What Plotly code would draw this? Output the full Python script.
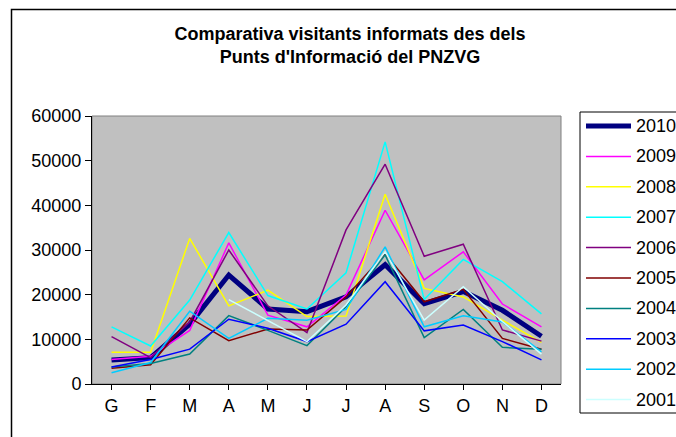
import plotly.graph_objects as go

months = ["G", "F", "M", "A", "M", "J", "J", "A", "S", "O", "N", "D"]
years = ["2010", "2009", "2008", "2007", "2006", "2005", "2004", "2003", "2002", "2001"]

v2010 = [5400, 5900, 13400, 24400, 16800, 16200, 19500, 26700, 18000, 20700, 16500, 10700]
v2009 = [5500, 6200, 12000, 31600, 15400, 12800, 19900, 38900, 23300, 29600, 17900, 12800]
v2008 = [7100, 7100, 32600, 17500, 21000, 15100, 15200, 42500, 21400, 19500, 14300, 9300]
v2007 = [12800, 8500, 18800, 33900, 19800, 16800, 24900, 54200, 18900, 27900, 22900, 15700]
v2006 = [10600, 5900, 13900, 30000, 17500, 11500, 34500, 49200, 28600, 31300, 12100, 9600]
v2005 = [3500, 4300, 14800, 9700, 12300, 12100, 19500, 29200, 18400, 21200, 10200, 7800]
v2004 = [3800, 4600, 6700, 15300, 12000, 8600, 17300, 28900, 10400, 16700, 8200, 7800]
v2003 = [3800, 5500, 7800, 14500, 12500, 9500, 13400, 22900, 11900, 13200, 9500, 5400]
v2002 = [2500, 4800, 16300, 10200, 14700, 14300, 16700, 30700, 12800, 15300, 13900, 7200]
v2001 = [None, None, None, 18900, 14200, 9500, 17700, 29600, 14300, 21800, 14000, 6700]

series = [v2010, v2009, v2008, v2007, v2006, v2005, v2004, v2003, v2002, v2001]
colors = ["#000080", "#FF00FF", "#FFFF00", "#00FFFF", "#800080",
          "#800000", "#008080", "#0000FF", "#00CCFF", "#CCFFFF"]
widths = [5, 1.5, 1.5, 1.5, 1.5, 1.5, 1.5, 1.5, 1.5, 1.5]

FONT = "Liberation Sans, Arial, sans-serif"

W, H = 676, 437
L, R, T, B = 92, 561, 116, 384
pw, ph = R - L, B - T


def px(x):
    return (x - L) / pw


def py(y):
    return (B - y) / ph


fig = go.Figure()
xs = list(range(len(months)))
for name, vals, col, w in zip(years, series, colors, widths):
    fig.add_trace(go.Scatter(
        x=xs, y=vals, mode="lines", name=name,
        line=dict(color=col, width=w), connectgaps=False,
    ))

# manual legend (box, line samples, labels)
shapes = [
    dict(type="rect", xref="paper", yref="paper", x0=0, y0=0, x1=1, y1=1,
         line=dict(color="#808080", width=1), layer="below"),
    dict(type="rect", xref="paper", yref="paper",
         x0=px(11.5), y0=py(445), x1=px(690), y1=py(9.5),
         line=dict(color="black", width=1.5), layer="below"),
    dict(type="rect", xref="paper", yref="paper",
         x0=px(580), y0=py(413), x1=px(700), y1=py(112),
         line=dict(color="black", width=1), fillcolor="white", layer="below"),
]
annotations = []
for i, (name, col, w) in enumerate(zip(years, colors, widths)):
    yy = 126 + i * 30.4
    shapes.append(dict(type="line", xref="paper", yref="paper",
                       x0=px(586), x1=px(631), y0=py(yy), y1=py(yy),
                       line=dict(color=col, width=w)))
    annotations.append(dict(xref="paper", yref="paper", x=px(634), y=py(yy),
                            xanchor="left", yanchor="middle", text=name,
                            showarrow=False,
                            font=dict(family=FONT, size=18, color="black")))

fig.update_layout(
    width=W, height=H,
    margin=dict(l=L, r=W - R, t=T, b=H - B, pad=0),
    paper_bgcolor="white",
    plot_bgcolor="#C0C0C0",
    font=dict(family=FONT, size=18, color="black"),
    title=dict(
        text="<b>Comparativa visitants informats des dels<br>Punts d'Informació del PNZVG</b>",
        x=350 / W, xanchor="center", xref="container",
        y=1 - 40 / H, yanchor="middle",
        font=dict(family=FONT, size=18, color="black"),
    ),
    showlegend=False,
    xaxis=dict(
        tickmode="array", tickvals=xs, ticktext=months,
        range=[-0.5, 11.5], showgrid=False, zeroline=False,
        showline=True, linecolor="black", linewidth=1,
        ticks="outside", ticklen=5, tickcolor="black", tickson="boundaries",
        tickfont=dict(family=FONT, size=18),
    ),
    yaxis=dict(
        range=[0, 60000], dtick=10000, showgrid=False, zeroline=False,
        showline=True, linecolor="black", linewidth=1,
        ticks="outside", ticklen=6, tickcolor="black",
        tickfont=dict(family=FONT, size=18), tickformat="d",
    ),
    shapes=shapes,
    annotations=annotations,
)

fig.write_html(
    "out.html",
    config={"displayModeBar": False},
    post_script="document.body.style.margin='0';document.body.style.overflow='hidden';",
)
